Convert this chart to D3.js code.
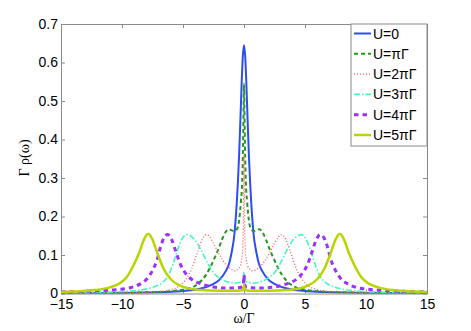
<!DOCTYPE html>
<html><head><meta charset="utf-8">
<script src="https://cdnjs.cloudflare.com/ajax/libs/d3/7.8.5/d3.min.js"></script>
<style>
html,body{margin:0;padding:0;background:#fff;}
svg{display:block;}
</style></head>
<body><svg id="chart" width="471" height="331"></svg>
<script>
// ---- data ----
const xTicks = [-15, -10, -5, 0, 5, 10, 15];
const yTicks = [0, 0.1, 0.2, 0.3, 0.4, 0.5, 0.6, 0.7];
const yTickLabels = ["0", "0.1", "0.2", "0.3", "0.4", "0.5", "0.6", "0.7"];
const seriesNames = ["U=0", "U=\u03c0\u0393", "U=2\u03c0\u0393", "U=3\u03c0\u0393", "U=4\u03c0\u0393", "U=5\u03c0\u0393"];

const omegaU0 = [-15,-12,-10,-8,-6,-5,-4,-3,-2.5,-2,-1.5,-1.2,-1,-0.8,-0.6,-0.5,-0.4,-0.3,-0.2,-0.1,0,0.1,0.2,0.3,0.4,0.5,0.6,0.8,1,1.2,1.5,2,2.5,3,4,5,6,8,10,12,15];
const rhoU0 = [0.0007,0.0011,0.0016,0.0025,0.0045,0.0065,0.010,0.018,0.025,0.036,0.058,0.08,0.109,0.15,0.232,0.289,0.36,0.447,0.539,0.615,0.645,0.615,0.539,0.447,0.36,0.289,0.232,0.15,0.109,0.08,0.058,0.036,0.025,0.018,0.010,0.0065,0.0045,0.0025,0.0016,0.0011,0.0007];

const omegaU1 = [-15,-12,-10,-8,-6,-5,-4,-3.5,-3.1,-2.8,-2.4,-2.1,-1.8,-1.5,-1.25,-1,-0.8,-0.6,-0.4,-0.25,-0.15,-0.1,-0.06,-0.03,0,0.03,0.06,0.1,0.15,0.25,0.4,0.6,0.8,1,1.25,1.5,1.8,2.1,2.4,2.8,3.1,3.5,4,5,6,8,10,12,15];
const rhoU1 = [0.001,0.0015,0.002,0.003,0.006,0.01,0.02,0.033,0.049,0.066,0.093,0.115,0.14,0.16,0.167,0.164,0.162,0.166,0.19,0.24,0.29,0.35,0.42,0.49,0.545,0.49,0.42,0.35,0.29,0.24,0.19,0.166,0.162,0.164,0.167,0.16,0.14,0.115,0.093,0.066,0.049,0.033,0.02,0.01,0.006,0.003,0.002,0.0015,0.001];

const omegaU2 = [-15,-12,-9,-7,-6,-5.2,-4.8,-4.3,-3.8,-3.4,-3.05,-2.8,-2.4,-2,-1.5,-1,-0.7,-0.4,-0.2,-0.1,-0.06,-0.03,0,0.03,0.06,0.1,0.2,0.4,0.7,1,1.5,2,2.4,2.8,3.05,3.4,3.8,4.3,4.8,5.2,6,7,9,12,15];
const rhoU2 = [0.0008,0.0012,0.0025,0.005,0.01,0.022,0.035,0.064,0.108,0.142,0.153,0.146,0.124,0.1,0.076,0.062,0.059,0.066,0.085,0.12,0.17,0.25,0.36,0.25,0.17,0.12,0.085,0.066,0.059,0.062,0.076,0.1,0.124,0.146,0.153,0.142,0.108,0.064,0.035,0.022,0.01,0.005,0.0025,0.0012,0.0008];

const omegaU3 = [-15,-12,-10,-8.5,-7.3,-6.7,-6.2,-5.8,-5.4,-5,-4.7,-4.4,-4,-3.5,-3,-2.5,-2,-1.5,-0.8,-0.3,-0.1,-0.05,0,0.05,0.1,0.3,0.8,1.5,2,2.5,3,3.5,4,4.4,4.7,5,5.4,5.8,6.2,6.7,7.3,8.5,10,12,15];
const rhoU3 = [0.0015,0.003,0.005,0.009,0.018,0.028,0.047,0.078,0.117,0.146,0.153,0.15,0.138,0.112,0.08,0.054,0.04,0.032,0.027,0.029,0.033,0.04,0.056,0.04,0.033,0.029,0.027,0.032,0.04,0.054,0.08,0.112,0.138,0.15,0.153,0.146,0.117,0.078,0.047,0.028,0.018,0.009,0.005,0.003,0.0015];

const omegaU4 = [-15,-12,-10.5,-9.2,-8.5,-7.9,-7.5,-7.1,-6.85,-6.55,-6.25,-5.9,-5.6,-5.2,-4.8,-4.3,-3.5,-2.5,-1.5,-0.5,-0.1,-0.05,0,0.05,0.1,0.5,1.5,2.5,3.5,4.3,4.8,5.2,5.6,5.9,6.25,6.55,6.85,7.1,7.5,7.9,8.5,9.2,10.5,12,15];
const rhoU4 = [0.004,0.007,0.01,0.016,0.025,0.04,0.06,0.09,0.12,0.145,0.153,0.138,0.11,0.075,0.053,0.037,0.025,0.017,0.014,0.015,0.018,0.025,0.048,0.025,0.018,0.015,0.014,0.017,0.025,0.037,0.053,0.075,0.11,0.138,0.153,0.145,0.12,0.09,0.06,0.04,0.025,0.016,0.01,0.007,0.004];

const omegaU5 = [-15,-13.5,-12.2,-11,-10.2,-9.6,-9.1,-8.6,-8.2,-7.85,-7.5,-7.1,-6.6,-6,-5.2,-4.5,-3.5,-2,-0.5,-0.1,-0.05,0,0.05,0.1,0.5,2,3.5,4.5,5.2,6,6.6,7.1,7.5,7.85,8.2,8.6,9.1,9.6,10.2,11,12.2,13.5,15];
const rhoU5 = [0.004,0.006,0.009,0.016,0.026,0.043,0.07,0.105,0.14,0.155,0.14,0.105,0.065,0.037,0.02,0.013,0.009,0.007,0.007,0.009,0.012,0.022,0.012,0.009,0.007,0.007,0.009,0.013,0.02,0.037,0.065,0.105,0.14,0.155,0.14,0.105,0.07,0.043,0.026,0.016,0.009,0.006,0.004];

const omegas = [omegaU0, omegaU1, omegaU2, omegaU3, omegaU4, omegaU5];
const rhos = [rhoU0, rhoU1, rhoU2, rhoU3, rhoU4, rhoU5];

// ---- styles ----
const colors = ["#2d4cf2", "#1f9a1f", "#ff5a5a", "#45f7bd", "#9b30ff", "#b9d500"];
const widths = [2, 2, 1.3, 1.6, 3, 2.5];
const dashes = [null, "4,3", "1,2", "6,2,1.5,2", "4.5,4", null];

// ---- layout ----
const W = 471, H = 331;
const margin = {left: 61, right: 44, top: 24, bottom: 37.5};
const svg = d3.select("#chart");
const x = d3.scaleLinear().domain([-15, 15]).range([margin.left, W - margin.right]);
const y = d3.scaleLinear().domain([0, 0.7]).range([H - margin.bottom, margin.top]);

svg.append("defs").append("clipPath").attr("id", "clip")
  .append("rect").attr("x", margin.left).attr("y", margin.top)
  .attr("width", W - margin.left - margin.right).attr("height", H - margin.top - margin.bottom);

const axisColor = "#8a8a8a";
const font = "'Liberation Sans', Arial, Helvetica, sans-serif";

// axes
const gx = svg.append("g").attr("transform", `translate(0,${H - margin.bottom})`)
  .call(d3.axisBottom(x).tickValues(xTicks).tickSizeInner(-4).tickSizeOuter(0).tickPadding(6)
    .tickFormat(d => d < 0 ? "\u2212" + Math.abs(d) : String(d)));
const gxt = svg.append("g").attr("transform", `translate(0,${margin.top})`)
  .call(d3.axisTop(x).tickValues(xTicks).tickSizeInner(-4).tickSizeOuter(0).tickFormat(""));
const gy = svg.append("g").attr("transform", `translate(${margin.left},0)`)
  .call(d3.axisLeft(y).tickValues(yTicks).tickSizeInner(-4).tickSizeOuter(0).tickPadding(3)
    .tickFormat((d, i) => yTickLabels[i]));
const gyr = svg.append("g").attr("transform", `translate(${W - margin.right},0)`)
  .call(d3.axisRight(y).tickValues(yTicks).tickSizeInner(-4).tickSizeOuter(0).tickFormat(""));

[gx, gxt, gy, gyr].forEach(g => {
  g.selectAll("path.domain").attr("stroke", axisColor).attr("stroke-width", 1);
  g.selectAll(".tick line").attr("stroke", axisColor).attr("stroke-width", 1);
  g.selectAll("text").attr("fill", "#000").style("font-family", font).style("font-size", "14px");
});
gx.selectAll("text").attr("dy", "0.71em");

// curves
const line = d3.line().x(d => x(d[0])).y(d => y(d[1])).curve(d3.curveMonotoneX);
const plot = svg.append("g").attr("clip-path", "url(#clip)");
omegas.forEach((om, i) => {
  const pts = om.map((w, j) => [w, rhos[i][j]]);
  plot.append("path").datum(pts)
    .attr("d", line)
    .attr("fill", "none")
    .attr("stroke", colors[i])
    .attr("stroke-width", widths[i])
    .attr("stroke-dasharray", dashes[i])
    .attr("stroke-linejoin", "round");
});

// axis labels
svg.append("text").attr("x", x(0)).attr("y", 323).attr("text-anchor", "middle")
  .style("font-family", "'Liberation Serif', 'Times New Roman', serif").style("font-size", "14px")
  .text("\u03c9/\u0393");
svg.append("text").attr("transform", `translate(29,${158}) rotate(-90)`).attr("text-anchor", "middle")
  .style("font-family", "'Liberation Serif', 'Times New Roman', serif").style("font-size", "14px")
  .text("\u0393 \u03c1(\u03c9)");

// legend
const lg = svg.append("g");
const lx0 = 351, ly0 = 24, lw = W - margin.right - 351, lh = 122;
lg.append("rect").attr("x", lx0).attr("y", ly0).attr("width", lw).attr("height", lh)
  .attr("fill", "#fff").attr("stroke", axisColor).attr("stroke-width", 1);
seriesNames.forEach((name, i) => {
  const yy = ly0 + 9.5 + i * 20.3;
  lg.append("line").attr("x1", lx0 + 3).attr("x2", lx0 + 20).attr("y1", yy).attr("y2", yy)
    .attr("stroke", colors[i]).attr("stroke-width", widths[i]).attr("stroke-dasharray", dashes[i]);
  lg.append("text").attr("x", lx0 + 22).attr("y", yy).attr("dy", "0.36em")
    .style("font-family", font).style("font-size", "14px").attr("fill", "#000").text(name);
});
</script>
</body></html>
